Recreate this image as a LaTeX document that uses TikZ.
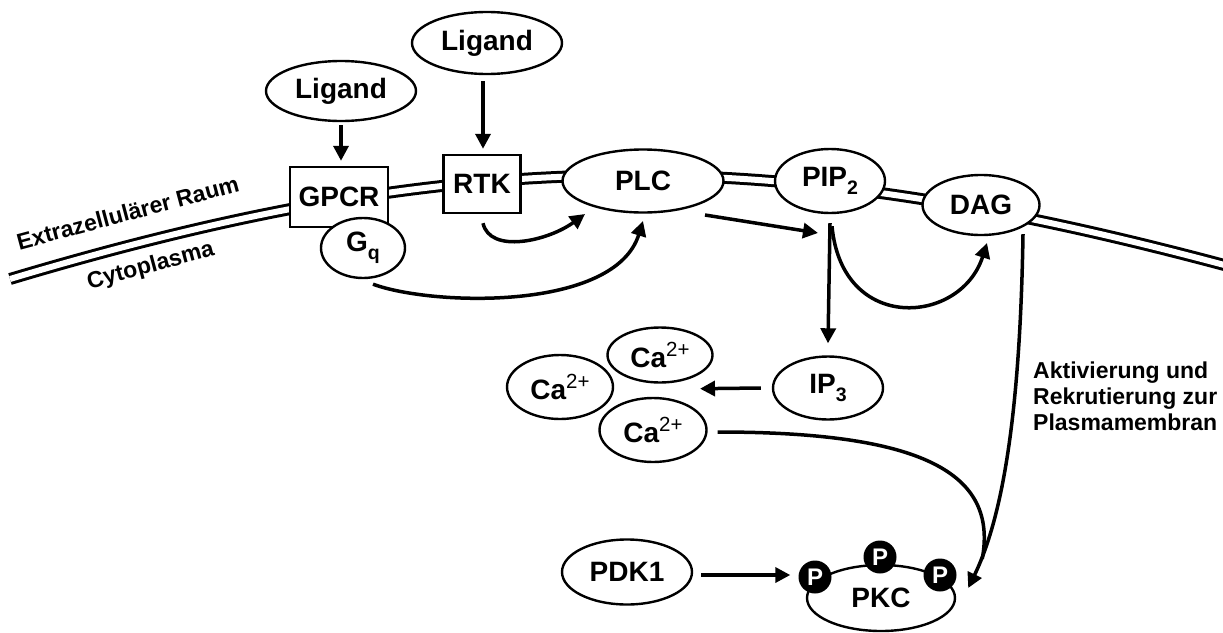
\documentclass[tikz,border=0pt]{standalone}
\usepackage{fontspec}
\setmainfont{Liberation Sans}
\usetikzlibrary{arrows.meta,calc,shapes.geometric}
\newcommand\subs[1]{\raisebox{-0.3em}{\fontsize{19.5}{19.5}\selectfont #1}}
\newcommand\sups[1]{\raisebox{0.42em}{\fontsize{20.5}{20.5}\selectfont\mdseries #1}}
\begin{document}
\begin{tikzpicture}[x=1pt,y=-1pt,
  font=\bfseries\fontsize{28}{32}\selectfont,
  ell/.style={ellipse, draw, line width=2.4pt, fill=white, inner sep=0pt},
  bx/.style={rectangle, draw, line width=2.4pt, fill=white, inner sep=0pt},
  pcirc/.style={circle, fill=black, text=white, minimum size=33pt, inner sep=0pt, font=\bfseries\fontsize{24}{24}\selectfont},
  arr/.style={line width=3.5pt, -{Triangle[length=15pt,width=15pt]}},
  lab/.style={font=\bfseries\fontsize{23}{26}\selectfont}]
\useasboundingbox (0,0) rectangle (1223,632);
% membrane
\draw[line width=12pt] (10,279) .. controls (464,143) and (770,143) .. (1228,266);
\draw[line width=6pt, white] (10,279) .. controls (464,143) and (770,143) .. (1228,266);
\node[lab, rotate=15, anchor=base west] (extra) at (16,251) {Extrazellulärer Raum};
\node[lab, rotate=15, anchor=base west] (cyto) at (86,290) {Cytoplasma};
% nodes
\node[ell, minimum width=150pt, minimum height=60pt] (lig1) at (341,91) {Ligand};
\node[ell, minimum width=150pt, minimum height=62pt] (lig2) at (487,43) {Ligand};
\node[bx, minimum width=98pt, minimum height=60pt] (gpcr) at (339,197) {GPCR};
\node[bx, minimum width=77pt, minimum height=58pt] (rtk) at (482,184) {RTK};
\node[ell, minimum width=84pt, minimum height=60pt] (gq) at (363,248) {G\subs{q}};
\node[ell, minimum width=161pt, minimum height=63pt] (plc) at (643,181) {PLC};
\node[ell, minimum width=110pt, minimum height=64pt] (pip) at (830,181) {PIP\subs{2}};
\node[ell, minimum width=117pt, minimum height=60pt] (dag) at (981,205) {DAG};
\node[ell, minimum width=110pt, minimum height=63pt] (ip3) at (828,388) {IP\subs{3}};
\node[ell, minimum width=105pt, minimum height=55pt] (ca1) at (660,355) {Ca\sups{2+}};
\node[ell, minimum width=106pt, minimum height=64pt] (ca2) at (560,387) {Ca\sups{2+}};
\node[ell, minimum width=107pt, minimum height=64pt] (ca3) at (653,430) {Ca\sups{2+}};
\node[ell, minimum width=130pt, minimum height=65pt] (pdk) at (627,572) {PDK1};
\node[ell, minimum width=148pt, minimum height=66pt] (pkc) at (881,598) {PKC};
\node[pcirc] (p1) at (815,577) {P};
\node[pcirc] (p2) at (880,557) {P};
\node[pcirc] (p3) at (940,575) {P};
\node[lab, align=left, anchor=north west, inner sep=0pt] (akt) at (1033,362) {Aktivierung und\\Rekrutierung zur\\Plasmamembran};
% arrows
\draw[arr] ($(lig1.south)+(0,3)$) -- ($(lig1.south |- gpcr.north)+(0,-5)$);
\draw[arr] ($(lig2.south -| rtk.north)+(1,6)$) -- ($(rtk.north)+(1,-5)$);
\draw[arr] ($(rtk.south)+(1,9)$) .. controls ($(rtk.south)+(8,40)$) and ($(plc.center)+(-95,60)$) .. ($(plc.center)+(-58,33)$);
\draw[arr] ($(gq.south)+(10,5)$) .. controls ($(gq.south)+(70,27)$) and ($(plc.center)+(-28,130)$) .. ($(plc.center)+(0,40)$);
\draw[arr] ($(plc.center)+(62,34)$) -- ($(pip.center)+(-12,52)$);
\draw[arr] ($(pip.south)+(0,9)$) -- ($(ip3.north)+(0,-12)$);
\draw[arr] ($(pip.south)+(2,12)$) .. controls ($(pip.south)+(12,120)$) and ($(dag.center)+(-20,120)$) .. ($(dag.center)+(6,38)$);
\draw[arr] ($(ip3.west)+(-11,0)$) -- ($(ca1.south)+(40,5)$);
\coordinate (tip) at ($(pkc.east)+(12,-10)$);
\draw[arr] ($(dag.south)+(42,-2)$) .. controls ($(dag.south)+(39,185)$) and ($(tip)+(33,-68)$) .. (tip);
\draw[line width=3.5pt] ($(ca3.east)+(10,2)$) .. controls ($(ca3.east)+(215,2)$) and ($(tip)+(30,-115)$) .. ($(tip)+(14,-29)$);
\draw[arr] ($(pdk.east)+(8,3)$) -- ($(p1.west)+(-8,-2)$);
\end{tikzpicture}
\end{document}
